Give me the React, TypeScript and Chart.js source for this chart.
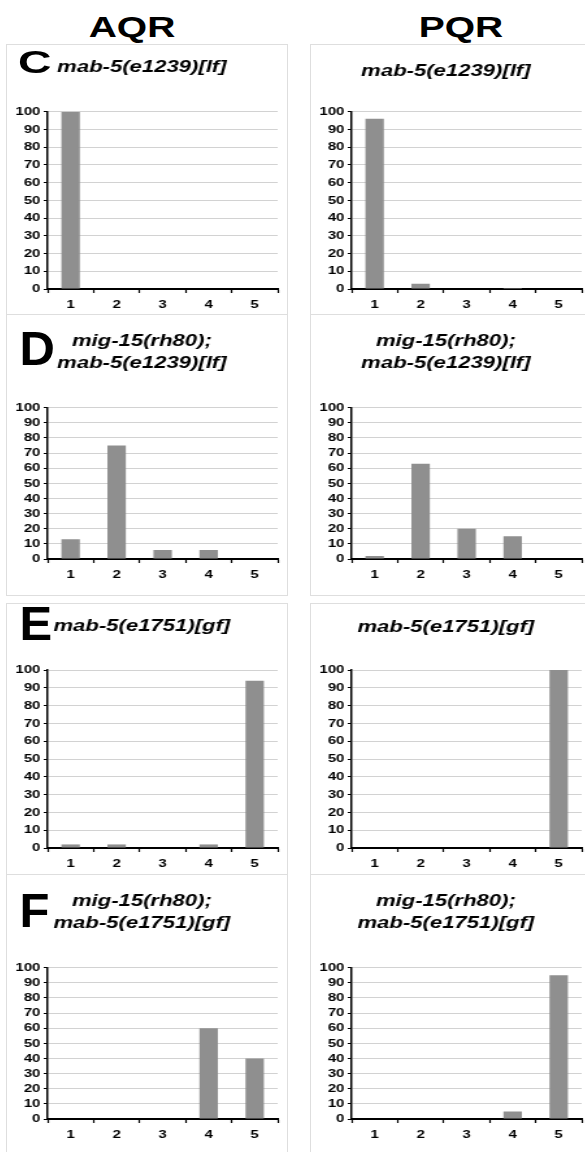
import React, { useEffect, useRef } from 'react';
import { Chart, registerables } from 'chart.js';

Chart.register(...registerables);

// ---------- data ----------
const categories = ['1', '2', '3', '4', '5'];
const yMin = 0;
const yMax = 100;
const yStep = 10;

const columnHeaders = ['AQR', 'PQR'];
const panelLetters = ['C', 'D', 'E', 'F'];

const titleLf = ['mab-5(e1239)[lf]'];
const titleMigLf = ['mig-15(rh80);', 'mab-5(e1239)[lf]'];
const titleGf = ['mab-5(e1751)[gf]'];
const titleMigGf = ['mig-15(rh80);', 'mab-5(e1751)[gf]'];

const aqrLf = [100, 0, 0, 0, 0];
const pqrLf = [96, 3, 0, 0.5, 0];
const aqrMigLf = [13, 75, 6, 6, 0];
const pqrMigLf = [2, 63, 20, 15, 0];
const aqrGf = [2, 2, 0, 2, 94];
const pqrGf = [0, 0, 0, 0, 100];
const aqrMigGf = [0, 0, 0, 60, 40];
const pqrMigGf = [0, 0, 0, 5, 95];

// ---------- style / layout ----------
const FONT = "'Liberation Sans', Arial, Helvetica, sans-serif";
const S = 1.3; // horizontal stretch of the chart drawings
const BAR = '#8f8f8f';
const GRID = '#d2d2d2';
const BOX = '#dedede';
const TITLE_SIZE = 17;
const TITLE_LH = 1.3;
const X_AXIS_H = 24;
const TICK_FONT = { family: FONT, size: 11.5, weight: 'bold', lineHeight: 1 };

type PanelSpec = {
  values: number[];
  title: string[];
  x0: number;
  x1: number;
  y0: number;
  plotTop: number;
  plotBottom: number;
  titleTop: number;
};

function ChartPanel({ spec }: { spec: PanelSpec }) {
  const ref = useRef<HTMLCanvasElement | null>(null);
  const W = Math.round((spec.x1 - spec.x0) / S);
  const H = Math.round(spec.plotBottom - spec.y0 + X_AXIS_H);
  const lineH = TITLE_SIZE * TITLE_LH;
  const padTop = spec.titleTop - spec.y0 - lineH / 2;
  const padBottom = spec.plotTop - spec.y0 - padTop - spec.title.length * lineH;

  useEffect(() => {
    if (!ref.current) return;
    const chart = new Chart(ref.current, {
      type: 'bar',
      data: {
        labels: categories,
        datasets: [
          {
            data: spec.values,
            backgroundColor: BAR,
            borderWidth: 0,
            categoryPercentage: 1,
            barPercentage: 0.4,
          },
        ],
      },
      options: {
        animation: false,
        responsive: false,
        maintainAspectRatio: false,
        events: [],
        layout: { padding: { left: 0, right: 7, top: 0, bottom: 0 } },
        plugins: {
          legend: { display: false },
          tooltip: { enabled: false },
          title: {
            display: true,
            text: spec.title,
            color: '#000',
            font: { family: FONT, size: TITLE_SIZE, style: 'italic', weight: 'bold', lineHeight: TITLE_LH },
            padding: { top: padTop, bottom: padBottom },
          },
        },
        scales: {
          x: {
            grid: {
              drawOnChartArea: false,
              offset: true,
              tickLength: 4,
              tickColor: '#000',
              tickWidth: 1.2,
            },
            border: { color: '#000', width: 2 },
            ticks: {
              color: '#000',
              font: TICK_FONT,
              padding: 6,
              maxRotation: 0,
              autoSkip: false,
            },
            afterFit: (s: any) => {
              s.height = X_AXIS_H;
            },
          },
          y: {
            min: yMin,
            max: yMax,
            ticks: {
              stepSize: yStep,
              autoSkip: false,
              color: '#000',
              font: TICK_FONT,
              padding: 2.5,
            },
            grid: { color: GRID, tickColor: '#000', tickLength: 3, lineWidth: 1 },
            border: { color: '#000', width: 1.5 },
            afterFit: (s: any) => {
              s.width = 32;
            },
          },
        },
      },
    } as any);
    return () => chart.destroy();
  }, []);

  return (
    <div
      style={{
        position: 'absolute',
        left: spec.x0,
        top: spec.y0,
        width: W,
        height: H,
        transform: `scaleX(${S})`,
        transformOrigin: '0 0',
      }}
    >
      <canvas ref={ref} width={W} height={H} style={{ display: 'block', width: W, height: H }} />
    </div>
  );
}

const LX0 = 6;
const LX1 = 287;
const RX0 = 310;
const RX1 = 591;

const panels: PanelSpec[] = [
  { values: aqrLf, title: titleLf, x0: LX0, x1: LX1, y0: 44, plotTop: 111.7, plotBottom: 289.3, titleTop: 67.5 },
  { values: pqrLf, title: titleLf, x0: RX0, x1: RX1, y0: 44, plotTop: 111.7, plotBottom: 289.3, titleTop: 71 },
  { values: aqrMigLf, title: titleMigLf, x0: LX0, x1: LX1, y0: 314, plotTop: 407.7, plotBottom: 559.3, titleTop: 341.7 },
  { values: pqrMigLf, title: titleMigLf, x0: RX0, x1: RX1, y0: 314, plotTop: 407.7, plotBottom: 559.3, titleTop: 341.7 },
  { values: aqrGf, title: titleGf, x0: LX0, x1: LX1, y0: 603, plotTop: 670, plotBottom: 847.7, titleTop: 626 },
  { values: pqrGf, title: titleGf, x0: RX0, x1: RX1, y0: 603, plotTop: 670, plotBottom: 847.7, titleTop: 627 },
  { values: aqrMigGf, title: titleMigGf, x0: LX0, x1: LX1, y0: 874, plotTop: 967.7, plotBottom: 1119.3, titleTop: 901.7 },
  { values: pqrMigGf, title: titleMigGf, x0: RX0, x1: RX1, y0: 874, plotTop: 967.7, plotBottom: 1119.3, titleTop: 901.7 },
];

const headerCenters = [131.5, 461];
const letterPos = [
  { left: 17.7, top: 45.9, size: 32, sx: 1.45 },
  { left: 19.4, top: 323.5, size: 49, sx: 1 },
  { left: 19.4, top: 598.5, size: 49, sx: 1 },
  { left: 19.4, top: 885.5, size: 49, sx: 1 },
];

function Box({ left, top, width, height }: { left: number; top: number; width: number; height: number }) {
  return (
    <div
      style={{
        position: 'absolute',
        left,
        top,
        width,
        height,
        border: `1px solid ${BOX}`,
        boxSizing: 'border-box',
      }}
    />
  );
}

function Line({ left, top, width }: { left: number; top: number; width: number }) {
  return <div style={{ position: 'absolute', left, top, width, height: 1, background: BOX }} />;
}

export default function App() {
  return (
    <div
      style={{
        position: 'absolute',
        left: 0,
        top: 0,
        width: 585,
        height: 1152,
        overflow: 'hidden',
        background: '#fff',
        fontFamily: FONT,
      }}
    >
      <Box left={LX0} top={44} width={LX1 - LX0 + 1} height={552} />
      <Box left={RX0} top={44} width={RX1 - RX0 + 1} height={552} />
      <Box left={LX0} top={603} width={LX1 - LX0 + 1} height={600} />
      <Box left={RX0} top={603} width={RX1 - RX0 + 1} height={600} />
      <Line left={LX0} top={314} width={LX1 - LX0 + 1} />
      <Line left={RX0} top={314} width={RX1 - RX0 + 1} />
      <Line left={LX0} top={874} width={LX1 - LX0 + 1} />
      <Line left={RX0} top={874} width={RX1 - RX0 + 1} />

      {panels.map((p, i) => (
        <ChartPanel key={i} spec={p} />
      ))}

      {columnHeaders.map((h, i) => (
        <div
          key={h}
          style={{
            position: 'absolute',
            left: headerCenters[i] - 60,
            top: 11.5,
            width: 120,
            textAlign: 'center',
            fontSize: 30,
            lineHeight: '30px',
            fontWeight: 'bold',
            color: '#000',
            transform: `scaleX(${S})`,
            transformOrigin: 'center',
          }}
        >
          {h}
        </div>
      ))}

      {panelLetters.map((l, i) => (
        <div
          key={l}
          style={{
            position: 'absolute',
            left: letterPos[i].left,
            top: letterPos[i].top,
            fontSize: letterPos[i].size,
            lineHeight: `${letterPos[i].size}px`,
            fontWeight: 'bold',
            color: '#000',
            transform: `scaleX(${letterPos[i].sx})`,
            transformOrigin: '0 0',
          }}
        >
          {l}
        </div>
      ))}
    </div>
  );
}
